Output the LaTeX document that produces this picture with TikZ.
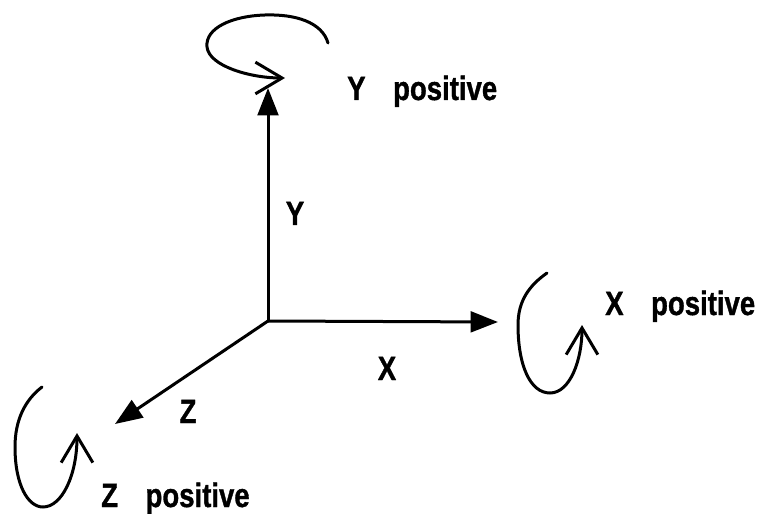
\documentclass[tikz,border=0pt]{standalone}
\usepackage{graphicx}
\usepackage{fontspec}
\setmainfont{Liberation Sans}[BoldFeatures={FakeBold=1.2}]
\usetikzlibrary{arrows.meta}
\newcommand{\tallbf}[1]{\scalebox{1}[1.22]{\bfseries #1}}
\begin{document}
\begin{tikzpicture}[
    x=0.03cm, y=-0.03cm,
    axis/.style={line width=0.09cm, -{Triangle[length=0.82cm, width=0.62cm]}},
    spin/.style={line width=0.09cm, line cap=round,
                 -{Straight Barb[length=0.8cm, width=0.95cm, line width=0.09cm]}},
    lbl/.style={inner sep=0pt, font=\fontsize{23.5}{28}\selectfont}
]
\useasboundingbox (0,0) rectangle (763,514);

% axes
\coordinate (O) at (268,321);
\coordinate (ytip) at (268,88);
\coordinate (xtip) at (498,322);
\coordinate (ztip) at (115,424);
\draw[axis] (O) -- (ytip);
\draw[axis] (O) -- (xtip);
\draw[axis] (O) -- (ztip);

\node[lbl, anchor=base] (ylab) at (295,225) {\tallbf{Y}};
\node[lbl, anchor=base] (xlab) at (387,380) {\tallbf{X}};
\node[lbl, anchor=base] (zlab) at (188,423) {\tallbf{Z}};

% rotation senses
\draw[spin] (328,43) .. controls (322,22) and (295,14) .. (265,15)
    .. controls (232,16) and (205,28) .. (207,47)
    .. controls (209,66) and (250,78) .. (285,78);
\draw[spin] (547,273) .. controls (530,285) and (518,300) .. (518,325)
    .. controls (518,365) and (530,393) .. (550,393)
    .. controls (570,393) and (582,360) .. (582,325);
\draw[spin] (42,387) .. controls (25,400) and (15,420) .. (15,447)
    .. controls (15,485) and (28,507) .. (43,507)
    .. controls (62,507) and (77,475) .. (77,433);

\node[lbl, anchor=base west] (ypos) at (347,100) {\tallbf{Y\quad positive}};
\node[lbl, anchor=base west] (xpos) at (605,315) {\tallbf{X\quad positive}};
\node[lbl, anchor=base west] (zpos) at (101,507) {\tallbf{Z\quad positive}};
\end{tikzpicture}
\end{document}
